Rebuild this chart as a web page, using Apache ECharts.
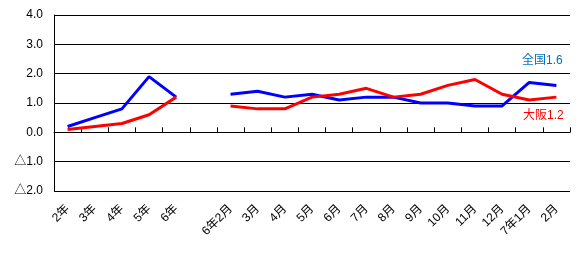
<!DOCTYPE html>
<html><head><meta charset="utf-8">
<script src="https://cdn.jsdelivr.net/npm/echarts@6/dist/echarts.min.js"></script>
<style>html,body{margin:0;padding:0;background:#fff}#c{width:579px;height:277px}</style>
</head><body><div id="c"></div>
<script>
var categories = ['2年','3年','4年','5年','6年','','6年2月','3月','4月','5月','6月','7月','8月','9月','10月','11月','12月','7年1月','2月'];
var zenkoku = [0.2,0.5,0.8,1.9,1.2,null,1.3,1.4,1.2,1.3,1.1,1.2,1.2,1.0,1.0,0.9,0.9,1.7,1.6];
var osaka   = [0.1,0.2,0.3,0.6,1.2,null,0.9,0.8,0.8,1.2,1.3,1.5,1.2,1.3,1.6,1.8,1.3,1.1,1.2];
var yTicks = {'-2':'△2.0','-1':'△1.0','0':'0.0','1':'1.0','2':'2.0','3':'3.0','4':'4.0'};
var seriesNames = ['全国','大阪'];
var FF = 'Liberation Sans, Noto Sans CJK JP, sans-serif';

function withEndLabel(arr, name, color, offset){
  return arr.map(function(v,i){
    if(i === arr.length-1){
      return {value:v, symbol:'circle', symbolSize:0.1, label:{show:true, position:'inside', offset:offset,
        formatter: name + v.toFixed(1), color: color, fontSize: 12, fontFamily: FF}};
    }
    return v;
  });
}

var chart = echarts.init(document.getElementById('c'), null, {renderer:'canvas'});
chart.setOption({
  animation:false,
  grid:{left:54, right:9, top:15, bottom:86},
  xAxis:[{
    type:'category', data:categories, position:'bottom', boundaryGap:true,
    axisLine:{show:false, onZero:false}, axisTick:{show:false},
    axisLabel:{rotate:45, interval:0, margin:16, fontSize:12, color:'#000', fontFamily:FF}
  },{
    type:'category', data:categories, position:'bottom', boundaryGap:true,
    axisLine:{show:true, onZero:true, lineStyle:{color:'#000', width:1}},
    axisTick:{show:true, inside:true, length:5, interval:0, lineStyle:{color:'#000', width:1}},
    axisLabel:{show:false}
  }],
  yAxis:{
    type:'value', min:-2, max:4, interval:1,
    axisLine:{show:true, lineStyle:{color:'#000'}},
    axisTick:{show:false},
    splitLine:{show:true, lineStyle:{color:'#000', width:1}},
    axisLabel:{margin:11, fontSize:12, color:'#000', fontFamily:FF,
      formatter:function(v){ return yTicks[String(Math.round(v))]; }}
  },
  series:[{
    name:seriesNames[0], type:'line', xAxisIndex:0,
    data:withEndLabel(zenkoku, seriesNames[0], '#0070C0', [-14,-25]),
    symbol:'none', showSymbol:true, connectNulls:false,
    lineStyle:{color:'#0000FF', width:3}, itemStyle:{color:'#0000FF'}
  },{
    name:seriesNames[1], type:'line', xAxisIndex:0,
    data:withEndLabel(osaka, seriesNames[1], '#FF0000', [-13,19]),
    symbol:'none', showSymbol:true, connectNulls:false,
    lineStyle:{color:'#FF0000', width:3}, itemStyle:{color:'#FF0000'}
  }]
});
</script></body></html>
